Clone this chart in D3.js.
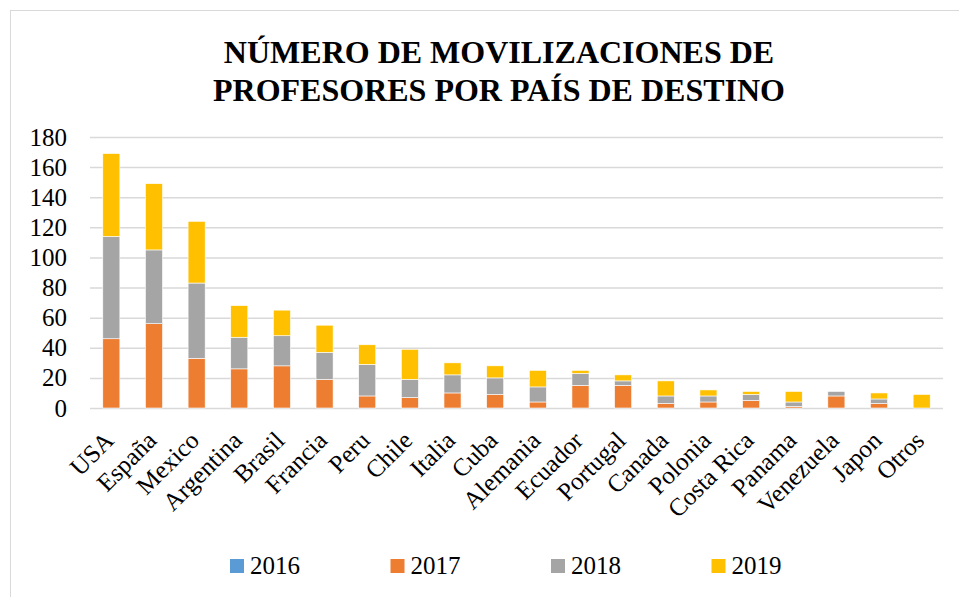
<!DOCTYPE html>
<html>
<head>
<meta charset="utf-8">
<script src="https://cdn.jsdelivr.net/npm/d3@7"></script>
<style>
  body { margin: 0; background: #fff; }
  text { font-family: "Liberation Serif", "Times New Roman", serif; fill: #000; }
</style>
</head>
<body>
<div id="chart"></div>
<script>
// data
const countries = ['USA', 'España', 'Mexico', 'Argentina', 'Brasil', 'Francia', 'Peru', 'Chile', 'Italia', 'Cuba',
  'Alemania', 'Ecuador', 'Portugal', 'Canada', 'Polonia', 'Costa Rica', 'Panama', 'Venezuela', 'Japon', 'Otros'];
const years = ['2016', '2017', '2018', '2019'];
const v2016 = [0, 0, 0, 0, 0, 0, 0, 0, 0, 0, 0, 0, 0, 0, 0, 0, 0, 0, 0, 0];
const v2017 = [46, 56, 33, 26, 28, 19, 8, 7, 10, 9, 4, 15, 15, 3, 4, 5, 1, 8, 3, 0];
const v2018 = [68, 49, 50, 21, 20, 18, 21, 12, 12, 11, 10, 8, 3, 5, 4, 4, 3, 3, 3, 0];
const v2019 = [55, 44, 41, 21, 17, 18, 13, 20, 8, 8, 11, 2, 4, 10, 4, 2, 7, 0, 4, 9];
const yTicks = [0, 20, 40, 60, 80, 100, 120, 140, 160, 180];
const colors = ['#5B9BD5', '#ED7D31', '#A5A5A5', '#FFC000'];

const width = 959, height = 597;
const margin = { top: 137, right: 16, bottom: 189, left: 90 };
const serif = '"Liberation Serif", "Times New Roman", Times, "DejaVu Serif", serif';

const svg = d3.select('#chart')
  .append('svg')
    .attr('width', width)
    .attr('height', height);

// chart area border (only top/left visible in the crop)
svg.append('rect')
  .attr('x', 10.5).attr('y', 10.5)
  .attr('width', 1000).attr('height', 1000)
  .attr('fill', 'none')
  .attr('stroke', '#d9d9d9')
  .attr('stroke-width', 1);

// title
svg.append('text')
  .attr('x', 499).attr('y', 63)
  .attr('text-anchor', 'middle')
  .attr('font-family', serif)
  .style('font-size', '32px').style('font-weight', 'bold')
  .text('NÚMERO DE MOVILIZACIONES DE');
svg.append('text')
  .attr('x', 499).attr('y', 101)
  .attr('text-anchor', 'middle')
  .attr('font-family', serif)
  .style('font-size', '32px').style('font-weight', 'bold')
  .text('PROFESORES POR PAÍS DE DESTINO');

const table = countries.map((c, i) => ({
  country: c, '2016': v2016[i], '2017': v2017[i], '2018': v2018[i], '2019': v2019[i]
}));
const series = d3.stack().keys(years)(table);

const x = d3.scaleBand()
  .domain(countries)
  .range([margin.left, width - margin.right])
  .paddingInner(0.6)
  .paddingOuter(0.3);

const y = d3.scaleLinear()
  .domain([0, 180])
  .range([height - margin.bottom, margin.top]);

const color = d3.scaleOrdinal().domain(years).range(colors);

// gridlines + y labels
const yAxis = svg.append('g')
  .attr('transform', 'translate(' + margin.left + ',0)')
  .call(d3.axisLeft(y).tickValues(yTicks).tickSize(-(width - margin.left - margin.right)).tickPadding(23));
yAxis.attr('font-family', serif);
yAxis.select('.domain').remove();
yAxis.selectAll('line').attr('stroke', '#d9d9d9').attr('stroke-width', 1.5);
yAxis.selectAll('text')
  .style('font-size', '25px')
  .attr('font-family', serif);

// bars
svg.append('g')
  .selectAll('g')
  .data(series)
  .join('g')
    .attr('fill', d => color(d.key))
  .selectAll('rect')
  .data(d => d)
  .join('rect')
    .attr('x', d => x(d.data.country))
    .attr('y', d => y(d[1]))
    .attr('width', x.bandwidth())
    .attr('height', d => y(d[0]) - y(d[1]))
    .attr('stroke', '#fff')
    .attr('stroke-width', 0.6);

// x labels rotated
svg.append('g')
  .selectAll('text')
  .data(countries)
  .join('text')
    .attr('text-anchor', 'end')
    .attr('font-family', serif)
    .attr('transform', d => 'translate(' + (x(d) + x.bandwidth() / 2 + 4) + ',' + (height - margin.bottom + 34) + ') rotate(-45)')
    .style('font-size', '25px')
    .text(d => d);

// legend
const legend = svg.append('g')
  .selectAll('g')
  .data(years)
  .join('g')
    .attr('transform', (d, i) => 'translate(' + (230 + i * 160.5) + ',559)');
legend.append('rect')
  .attr('width', 14).attr('height', 14)
  .attr('fill', d => color(d));
legend.append('text')
  .attr('x', 20).attr('y', 15)
  .attr('font-family', serif)
  .style('font-size', '25px')
  .text(d => d);
</script>
</body>
</html>
